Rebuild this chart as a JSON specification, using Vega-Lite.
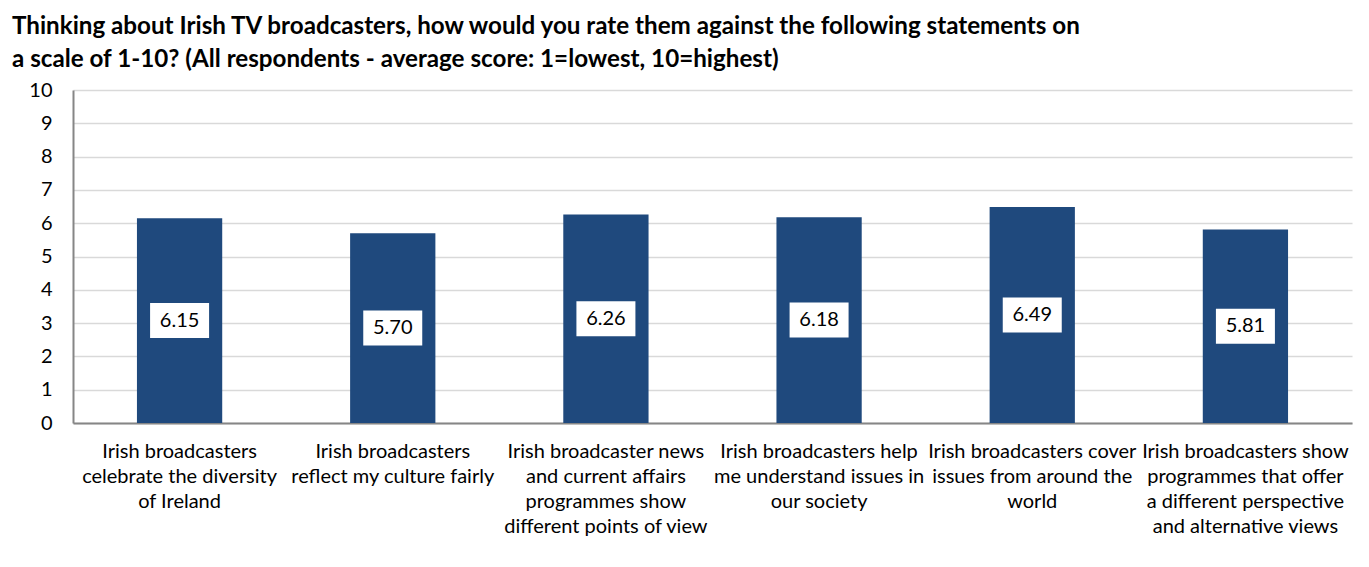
{
  "$schema": "https://vega.github.io/schema/vega-lite/v6.json",
  "width": 1279,
  "height": 333,
  "padding": {"left": 12, "top": 14, "right": 5, "bottom": 5},
  "background": "white",
  "title": {
    "text": ["Thinking about Irish TV broadcasters, how would you rate them against the following statements on", "a scale of 1-10? (All respondents - average score: 1=lowest, 10=highest)"],
    "anchor": "start",
    "frame": "group",
    "dx": -61,
    "offset": 8,
    "font": "Lato",
    "fontSize": 24.2,
    "fontWeight": "bold",
    "color": "#000000",
    "lineHeight": 33
  },
  "data": {
    "values": [
      {"statement": "Irish broadcasters|celebrate the diversity|of Ireland", "score": 6.15},
      {"statement": "Irish broadcasters|reflect my culture fairly", "score": 5.70},
      {"statement": "Irish broadcaster news|and current affairs|programmes show|different points of view", "score": 6.26},
      {"statement": "Irish broadcasters help|me understand issues in|our society", "score": 6.18},
      {"statement": "Irish broadcasters cover|issues from around the|world", "score": 6.49},
      {"statement": "Irish broadcasters show|programmes that offer|a different perspective|and alternative views", "score": 5.81}
    ]
  },
  "encoding": {
    "x": {
      "field": "statement",
      "type": "nominal",
      "sort": null,
      "scale": {"paddingInner": 0.6, "paddingOuter": 0.3},
      "axis": {
        "title": null,
        "labelAngle": 0,
        "labelExpr": "split(datum.label, '|')",
        "labelFont": "Lato",
        "labelFontSize": 20,
        "labelColor": "#000000",
        "labelLineHeight": 25,
        "labelBaseline": "top",
        "labelPadding": 18,
        "labelLimit": 0,
        "ticks": false,
        "domainColor": "#868686",
        "domainWidth": 2
      }
    }
  },
  "layer": [
    {
      "mark": {"type": "bar", "color": "#1f497d"},
      "encoding": {
        "y": {
          "field": "score",
          "type": "quantitative",
          "scale": {"domain": [0, 10]},
          "axis": {
            "title": null,
            "values": [0, 1, 2, 3, 4, 5, 6, 7, 8, 9, 10],
            "labelOverlap": false,
            "labelFont": "Lato",
            "labelFontSize": 20,
            "labelColor": "#000000",
            "labelPadding": 21,
            "ticks": false,
            "domainColor": "#868686",
            "domainWidth": 2,
            "gridColor": "#d9d9d9",
            "gridWidth": 1.5,
            "minExtent": 61,
            "maxExtent": 61
          }
        }
      }
    },
    {
      "transform": [{"calculate": "datum.score / 2", "as": "mid"}],
      "mark": {
        "type": "point",
        "shape": "M-1,-0.593L1,-0.593L1,0.593L-1,0.593Z",
        "filled": true,
        "color": "white",
        "opacity": 1,
        "size": 3481,
        "strokeWidth": 0
      },
      "encoding": {
        "y": {
          "field": "mid",
          "type": "quantitative",
          "scale": {"domain": [0, 10]},
          "axis": {
            "title": null,
            "values": [0, 1, 2, 3, 4, 5, 6, 7, 8, 9, 10],
            "labelOverlap": false,
            "labelFont": "Lato",
            "labelFontSize": 20,
            "labelColor": "#000000",
            "labelPadding": 21,
            "ticks": false,
            "domainColor": "#868686",
            "domainWidth": 2,
            "gridColor": "#d9d9d9",
            "gridWidth": 1.5,
            "minExtent": 61,
            "maxExtent": 61
          }
        }
      }
    },
    {
      "transform": [{"calculate": "datum.score / 2", "as": "mid"}],
      "mark": {
        "type": "text",
        "font": "Lato",
        "fontSize": 20,
        "color": "#000000",
        "baseline": "middle",
        "align": "center"
      },
      "encoding": {
        "y": {
          "field": "mid",
          "type": "quantitative",
          "scale": {"domain": [0, 10]},
          "axis": {
            "title": null,
            "values": [0, 1, 2, 3, 4, 5, 6, 7, 8, 9, 10],
            "labelOverlap": false,
            "labelFont": "Lato",
            "labelFontSize": 20,
            "labelColor": "#000000",
            "labelPadding": 21,
            "ticks": false,
            "domainColor": "#868686",
            "domainWidth": 2,
            "gridColor": "#d9d9d9",
            "gridWidth": 1.5,
            "minExtent": 61,
            "maxExtent": 61
          }
        },
        "text": {"field": "score", "type": "quantitative", "format": ".2f"}
      }
    }
  ],
  "config": {
    "view": {"stroke": null}
  }
}
